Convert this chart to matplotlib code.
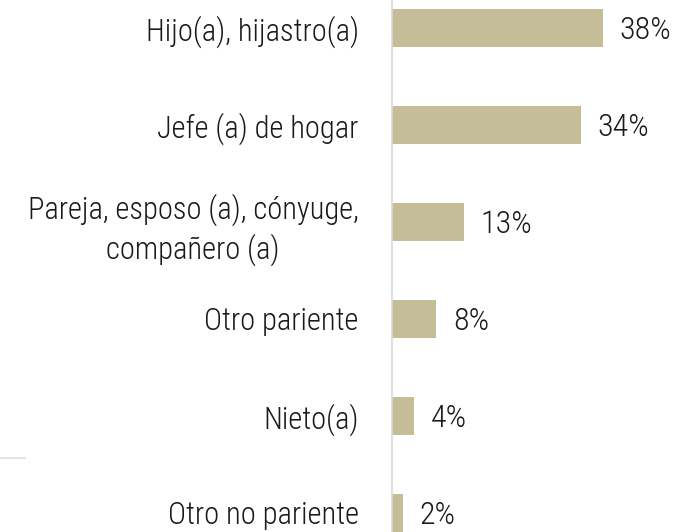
import matplotlib
matplotlib.use('Agg')
import matplotlib.pyplot as plt
from matplotlib import font_manager
from matplotlib.lines import Line2D

categories = ['Hijo(a), hijastro(a)', 'Jefe (a) de hogar',
              'Pareja, esposo (a), cónyuge,\ncompañero (a)',
              'Otro pariente', 'Nieto(a)', 'Otro no pariente']
values = [38, 34, 13, 8, 4, 2]

names = {f.name for f in font_manager.fontManager.ttflist}
family = next((n for n in ['Roboto Condensed', 'Liberation Sans Narrow', 'Roboto'] if n in names), 'DejaVu Sans')
plt.rcParams['font.family'] = [family, 'DejaVu Sans']
plt.rcParams['font.weight'] = 'light'

fig = plt.figure(figsize=(6.84, 5.32), dpi=100)
ax = fig.add_axes([392 / 684, 0, 1 - 392 / 684, 1])

bar_color = '#c5bd98'
text_color = '#1a1a1a'
y = list(range(len(categories)))
ax.barh(y, values, height=0.4, color=bar_color)

for yi, v in zip(y, values):
    ax.text(v + 3, yi + 0.025, f'{v}%', va='center', ha='left', fontsize=23,
            color=text_color, fontweight='light')

ax.set_xlim(0, 52.6)
ax.set_ylim((532 - 28) / 97, -28 / 97)
ax.set_yticks(y)
ax.set_yticklabels(categories, fontsize=22, color=text_color, ma='center',
                   linespacing=1.3, fontweight='light')
ax.tick_params(axis='y', length=0, pad=24)
ax.set_xticks([])
for s in ['top', 'right', 'bottom']:
    ax.spines[s].set_visible(False)
ax.spines['left'].set_color('#d9d9d9')
ax.spines['left'].set_linewidth(1.2)

# stray separator line at left edge
fig.add_artist(Line2D([0, 25 / 684], [1 - 458 / 532, 1 - 458 / 532], color='#dddddd', lw=1.2))

fig.savefig('out.png', dpi=100)
